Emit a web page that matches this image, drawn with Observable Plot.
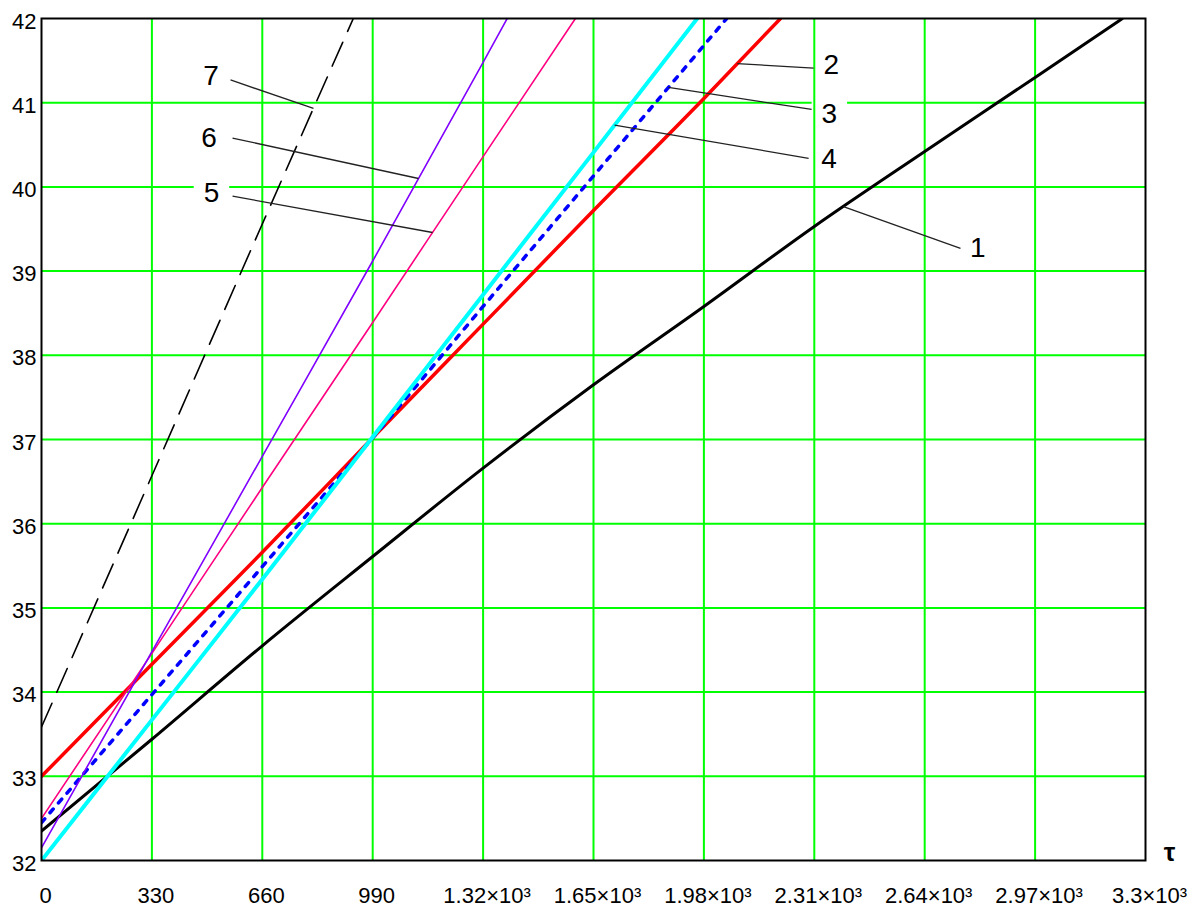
<!DOCTYPE html>
<html>
<head>
<meta charset="utf-8">
<script src="https://cdn.jsdelivr.net/npm/d3@7"></script>
<script src="https://cdn.jsdelivr.net/npm/@observablehq/plot@0.6"></script>
<style>
  html, body { margin: 0; padding: 0; background: #fff; overflow: hidden; }
</style>
</head>
<body>
<div id="chart"></div>
<script>
// Axis ticks: time τ and temperature
const tauTicks = [0, 330, 660, 990, 1320, 1650, 1980, 2310, 2640, 2970, 3300];
const tempTicks = [32, 33, 34, 35, 36, 37, 38, 39, 40, 41, 42];

// Curve 1
const tau1 = [0, 330, 660, 990, 1320, 1650, 1980, 2310, 2640, 2970, 3231];
const temp1 = [32.35, 33.44, 34.55, 35.61, 36.66, 37.65, 38.58, 39.53, 40.42, 41.30, 42.0];
// Curve 2
const tau2 = [0, 330, 660, 990, 1320, 1650, 1980, 2209];
const temp2 = [33.0, 34.33, 35.66, 37.02, 38.37, 39.72, 41.05, 42.0];
// Curve 3
const tau3 = [0, 330, 660, 990, 1320, 1650, 1980, 2048];
const temp3 = [32.45, 33.97, 35.49, 37.02, 38.58, 40.13, 41.68, 42.0];
// Curve 4
const tau4 = [0, 330, 660, 990, 1320, 1650, 1960];
const temp4 = [32.0, 33.67, 35.34, 37.03, 38.72, 40.41, 42.0];
// Curve 5
const tau5 = [0, 330, 660, 990, 1320, 1596];
const temp5 = [32.5, 34.46, 36.43, 38.39, 40.36, 42.0];
// Curve 6
const tau6 = [0, 330, 660, 990, 1320, 1392];
const temp6 = [32.15, 34.48, 36.8, 39.12, 41.48, 42.0];
// Curve 7
const tau7 = [0, 330, 660, 932];
const temp7 = [33.585, 36.57, 39.56, 42.0];

// Curve labels: text anchor (τ, T), leader start (τ, T), leader end τ on its curve
const labelNames = ["1", "2", "3", "4", "5", "6", "7"];
const labelTau = [2799, 2361, 2355, 2354, 508, 501, 507];
const labelTemp = [39.27, 41.45, 40.86, 40.33, 39.93, 40.58, 41.32];
const leaderTau = [2747, 2308, 2302, 2293, 571, 571, 565];
const leaderTemp = [39.27, 41.41, 40.92, 40.34, 39.89, 40.58, 41.27];
const leaderEndTau = [2397, 2080, 1874, 1713, 1169, 1127, 813];

const curves = [
  {tau: tau1, temp: temp1, stroke: "#000000", width: 3},
  {tau: tau2, temp: temp2, stroke: "#ff0000", width: 3.5},
  {tau: tau3, temp: temp3, stroke: "#0000ff", width: 3.5, dash: "5 8"},
  {tau: tau4, temp: temp4, stroke: "#00ffff", width: 4},
  {tau: tau5, temp: temp5, stroke: "#ff0080", width: 1.6},
  {tau: tau6, temp: temp6, stroke: "#8000ff", width: 1.6},
  {tau: tau7, temp: temp7, stroke: "#000000", width: 1.6, dash: "26 12"}
];

const toRows = (c) => c.tau.map((t, i) => ({tau: t, temp: c.temp[i]}));
const interp = (c, t) => d3.scaleLinear().domain(c.tau).range(c.temp)(t);

const labels = labelNames.map((name, i) => ({
  name,
  tau: labelTau[i], temp: labelTemp[i],
  x1: leaderTau[i], y1: leaderTemp[i],
  x2: leaderEndTau[i], y2: interp(curves[i], leaderEndTau[i])
}));

const fmtTau = (d) => d < 1000 ? String(d) : `${d / 1000}×10³`;

const chart = Plot.plot({
  width: 1202,
  height: 909,
  marginLeft: 41,
  marginRight: 57,
  marginTop: 18,
  marginBottom: 49,
  style: {fontFamily: "'Liberation Sans', Arial, sans-serif", fontSize: "22px", background: "#fff", color: "#000"},
  x: {domain: [0, 3300]},
  y: {domain: [32, 42]},
  marks: [
    // horizontal grid
    Plot.ruleY(tempTicks.slice(1, -1), {stroke: "#00ff00", strokeWidth: 2}),
    // label backgrounds interrupt the horizontal grid
    Plot.dot(labels, {x: "tau", y: "temp", symbol: "square", r: 20, fill: "#fff", stroke: null}),
    // vertical grid
    Plot.ruleX(tauTicks.slice(1, -1), {stroke: "#00ff00", strokeWidth: 2}),
    ...curves.map((c) => Plot.line(toRows(c), {
      x: "tau", y: "temp", stroke: c.stroke, strokeWidth: c.width,
      strokeDasharray: c.dash, curve: "monotone-x", clip: true
    })),
    Plot.link(labels, {x1: "x1", y1: "y1", x2: "x2", y2: "y2", stroke: "#222", strokeWidth: 1.3}),
    Plot.text(labels, {x: "tau", y: "temp", text: "name", fontSize: 28, fill: "#000"}),
    Plot.frame({stroke: "#000", strokeWidth: 2}),
    Plot.axisX(tauTicks, {tickSize: 0, tickPadding: 27, tickFormat: fmtTau, dx: 4, fontSize: 22, label: null}),
    Plot.axisY(tempTicks, {tickSize: 0, tickPadding: 5, dy: 3, fontSize: 22, tickFormat: (d) => String(d), label: null}),
    Plot.text(["τ"], {x: 3300, y: 32, dx: 24, dy: -8, fontSize: 26, fontWeight: "bold", fill: "#000"})
  ]
});

document.getElementById("chart").appendChild(chart);
</script>
</body>
</html>
